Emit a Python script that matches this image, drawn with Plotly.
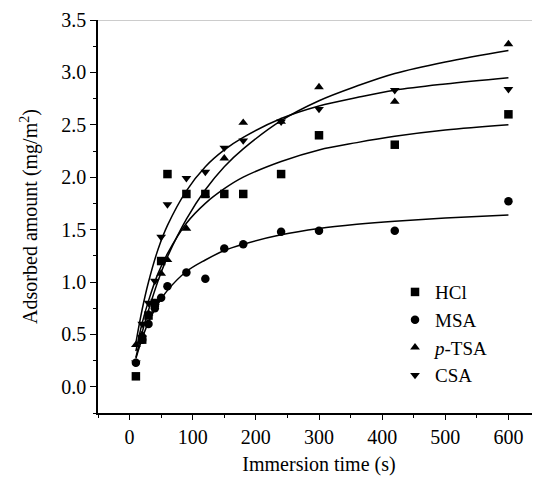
import plotly.graph_objects as go

# measured data (immersion time in s, adsorbed amount in mg/m^2)
t_points = [10, 20, 30, 40, 50, 60, 90, 120, 150, 180, 240, 300, 420, 600]
hcl = [0.10, 0.45, 0.68, 0.80, 1.20, 2.03, 1.84, 1.84, 1.84, 1.84, 2.03, 2.40, 2.31, 2.60]
msa = [0.23, 0.45, 0.60, 0.75, 0.85, 0.96, 1.09, 1.03, 1.32, 1.36, 1.48, 1.49, 1.49, 1.77]
ptsa = [0.40, 0.50, 0.70, 0.80, 1.08, 1.21, 1.51, 1.83, 2.18, 2.52, 2.53, 2.86, 2.72, 3.27]
csa = [0.23, 0.60, 0.80, 1.01, 1.43, 1.74, 1.99, 2.05, 2.28, 2.35, 2.53, 2.65, 2.83, 2.84]

# fitted curves
t_fit = [10, 20, 30, 45, 60, 90, 120, 150, 180, 240, 300, 360, 420, 500, 600]
hcl_fit = [0.34, 0.61, 0.82, 1.08, 1.27, 1.56, 1.75, 1.89, 2.00, 2.15, 2.26, 2.33, 2.39, 2.45, 2.50]
msa_fit = [0.27, 0.46, 0.62, 0.79, 0.92, 1.10, 1.21, 1.30, 1.36, 1.45, 1.51, 1.55, 1.58, 1.61, 1.64]
ptsa_fit = [0.28, 0.52, 0.73, 1.01, 1.24, 1.60, 1.88, 2.10, 2.27, 2.54, 2.73, 2.87, 2.99, 3.10, 3.21]
csa_fit = [0.42, 0.74, 1.00, 1.31, 1.54, 1.87, 2.10, 2.26, 2.38, 2.56, 2.68, 2.76, 2.83, 2.89, 2.95]

series = [
    ("HCl", hcl, hcl_fit, "square"),
    ("MSA", msa, msa_fit, "circle"),
    ("<i>p</i>-TSA", ptsa, ptsa_fit, "triangle-up"),
    ("CSA", csa, csa_fit, "triangle-down"),
]

FONT = "Liberation Serif, Times New Roman, serif"

fig = go.Figure()
for name, pts, fit, sym in series:
    fig.add_trace(go.Scatter(
        x=t_fit, y=fit, mode="lines", line=dict(color="black", width=1.5, shape="spline"),
        showlegend=False, hoverinfo="skip"))
for name, pts, fit, sym in series:
    fig.add_trace(go.Scatter(
        x=t_points, y=pts, mode="markers", name=name,
        marker=dict(symbol=sym, color="black", size=8.5, line=dict(width=0))))

fig.update_layout(
    width=532, height=470,
    margin=dict(l=90, r=0, t=12, b=65),
    paper_bgcolor="white", plot_bgcolor="white",
    font=dict(family=FONT, color="black", size=20),
    legend=dict(x=0.672, y=0.356, xanchor="left", yanchor="top",
                bgcolor="rgba(0,0,0,0)", font=dict(family=FONT, size=19),
                tracegroupgap=0, itemwidth=30),
    shapes=[dict(type="line", xref="paper", yref="y", x0=0, x1=1, y0=3.5, y1=3.5,
                 line=dict(color="#999999", width=1))],
)
fig.update_xaxes(
    range=[-50, 650], tick0=0, dtick=100, showgrid=False, zeroline=False,
    showline=True, linecolor="black", linewidth=1.5,
    ticks="outside", ticklen=5, tickwidth=1.2, tickcolor="black",
    minor=dict(dtick=50, tick0=0, ticks="outside", ticklen=3, tickcolor="black", tickwidth=1),
    tickfont=dict(family=FONT, size=20),
    title=dict(text="Immersion time (s)", font=dict(family=FONT, size=20), standoff=10),
)
fig.update_yaxes(
    range=[-0.25, 3.5], tick0=0, dtick=0.5, tickformat=".1f", showgrid=False, zeroline=False,
    showline=True, linecolor="black", linewidth=1.5,
    ticks="outside", ticklen=6, tickwidth=1.2, tickcolor="black",
    minor=dict(dtick=0.25, tick0=0, ticks="outside", ticklen=3, tickcolor="black", tickwidth=1),
    tickfont=dict(family=FONT, size=20),
    title=dict(text="Adsorbed amount (mg/m<sup>2</sup>)", font=dict(family=FONT, size=20), standoff=18),
)

fig.write_html("out.html")
